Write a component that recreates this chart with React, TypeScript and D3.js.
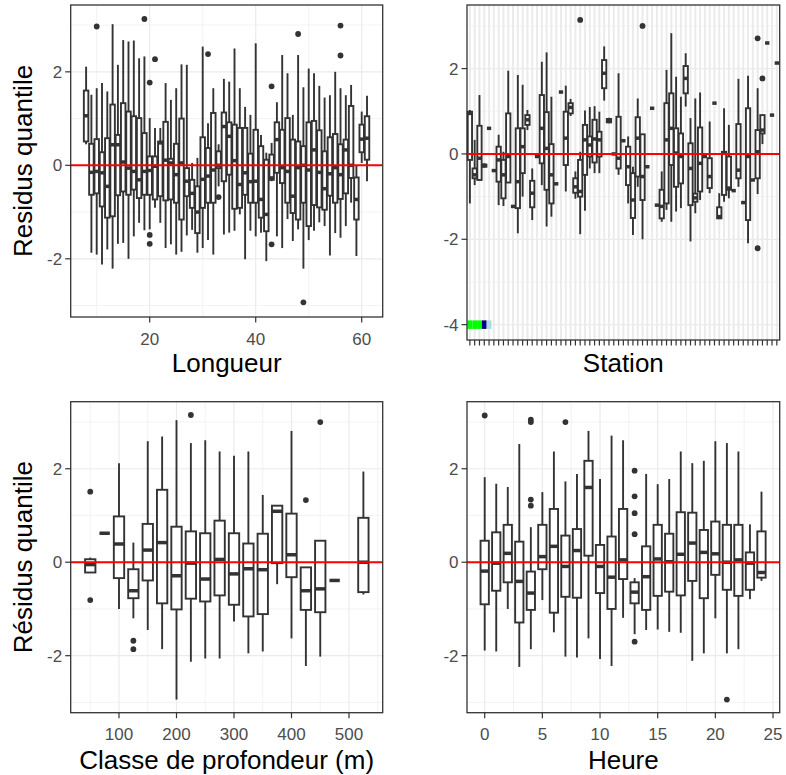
import React from 'react';
import * as d3 from 'd3';

// ---------------- DATA ----------------
// Panel 1 : Longueur (continuous x)
const longueurX = [8,9,10,11,12,13,14,15,16,17,18,19,20,21,22,23,24,25,26,27,28,29,30,31,32,33,34,35,36,37,38,39,40,41,42,43,44,45,46,47,48,49,50,51,52,53,54,55,56,57,58,59,60,61];
// [lower whisker, Q1, median, Q3, upper whisker]
const longueurStats = [
  [0.45, 0.51, 1.06, 1.6, 2.11], [-1.87, -0.63, -0.15, 0.46, 1.51], [-1.91, -0.6, -0.13, 0.56, 1.65],
  [-2.12, -0.88, -0.16, 0.28, 1.76], [-1.8, -1.12, -0.45, 0.58, 1.58], [-2.21, -1.09, 0.44, 1.3, 3.02],
  [-1.68, -0.64, 0.44, 0.65, 2.15], [-1.66, -0.56, 0.07, 1.33, 2.68], [-2.0, -0.63, -0.06, 1.15, 2.65],
  [-1.52, -0.52, -0.13, 1.05, 2.67], [-1.23, -0.7, -0.31, 1.01, 2.29], [-1.39, -0.63, -0.13, 0.69, 2.33],
  [-1.37, -0.63, -0.11, 0.19, 1.01], [-0.91, -0.73, -0.02, 0.19, 0.8], [-1.23, -0.66, 0.48, 0.51, 0.8],
  [-1.77, -0.75, 0.11, 0.93, 1.76], [-1.69, -0.73, 0.05, 0.14, 1.4], [-1.91, -0.8, -0.2, 0.46, 1.65],
  [-1.85, -1.16, 0.05, 1.0, 2.16], [-1.5, -0.66, -0.34, -0.06, 2.15], [-1.38, -0.91, -0.6, -0.31, 0.05],
  [-1.87, -1.45, -1.0, -0.45, 0.16], [-1.77, -0.91, -0.3, 0.6, 2.54], [-1.6, -0.8, -0.23, 0.37, 0.9],
  [-1.91, -0.8, -0.1, 1.12, 1.65], [-0.45, -0.06, 0.0, 0.3, 0.45], [-1.48, -0.34, 0.83, 1.13, 1.85],
  [-1.44, -0.2, 0.62, 0.92, 1.79], [-1.4, -0.93, 0.1, 0.87, 2.5], [-1.05, -0.91, -0.41, 0.8, 1.65],
  [-2.01, -0.63, -0.16, 0.8, 1.25], [-1.4, -0.8, -0.35, 0.25, 1.08], [-1.52, -0.8, -0.34, 0.76, 2.61],
  [-1.44, -1.12, -0.73, 0.41, 0.65], [-2.05, -1.41, -1.05, 0.12, 0.27], [-0.34, -0.31, -0.27, 0.23, 0.48],
  [-1.52, -0.16, 0.55, 0.92, 1.35], [-1.77, -0.38, -0.05, 0.76, 2.36], [-1.15, -0.8, -0.13, 1.01, 1.97],
  [-1.62, -1.02, -0.66, 0.55, 1.08], [-1.37, -1.16, -0.05, 0.51, 2.36], [-2.21, -0.8, 0.0, 0.41, 1.67],
  [-1.6, -1.3, -0.1, 0.92, 2.07], [-1.4, -0.85, 0.33, 0.95, 1.97], [-1.22, -0.9, -0.15, 0.75, 1.7],
  [-1.3, -0.95, -0.5, 0.3, 1.45], [-1.93, -0.65, -0.18, 0.6, 1.5], [-1.45, -0.8, -0.05, 0.67, 2.0],
  [-1.55, -0.72, -0.2, 0.45, 1.65], [-1.3, -0.6, 0.33, 0.55, 1.5], [-0.8, -0.27, 0.0, 1.27, 1.72],
  [-1.94, -1.16, -0.73, -0.26, 0.0], [0.05, 0.28, 0.56, 0.87, 1.15], [-0.34, 0.12, 0.58, 1.05, 1.49],
];
const longueurOutliers = [
  [10, 2.97], [19, 3.13], [20, 1.77], [20, -1.49], [20, -1.68], [21, 2.27], [31, 2.38], [33, -0.68],
  [43, 1.69], [43, -1.69], [48, 2.81], [49, -2.93], [56, 2.99], [56, 2.35],
];
const longueurTicks = [20, 40, 60];
const longueurMinor = [10, 30, 50];

// Panel 2 : Station (discrete x)
const stationNames = d3.range(1, 66).map((i) => `S${i}`);
const stationStats = [
  [-1.16, -0.14, 0.95, 0.99, 1.03], [-0.73, -0.57, -0.49, -0.34, 0.33], [-0.61, -0.61, -0.1, 0.66, 1.38],
  [-0.32, -0.3, -0.27, -0.25, -0.22], [0.6, 0.6, 0.6, 0.6, 0.6], [-0.39, -0.39, -0.39, -0.39, -0.39],
  [-1.2, -0.65, -0.14, 0.17, 0.45], [-1.22, -1.04, -0.49, -0.14, 0.05], [-0.67, -0.67, -0.06, 0.95, 1.95],
  [-1.23, -1.23, -1.23, -1.23, -1.23], [-1.86, -1.27, -0.65, 0.6, 1.85], [-1.0, -0.45, 0.17, 0.6, 1.62],
  [0.56, 0.68, 0.8, 0.91, 1.03], [-1.55, -1.25, -0.92, -0.63, -0.34], [-0.06, -0.06, -0.06, -0.06, -0.06],
  [-0.73, -0.22, 0.6, 1.38, 2.16], [-1.7, -0.84, 0.13, 0.98, 2.38], [-1.47, -1.16, -0.49, 0.23, 1.34],
  [-0.7, -0.7, -0.7, -0.7, -0.7], [1.45, 1.45, 1.45, 1.45, 1.45], [-0.88, -0.26, 0.37, 0.99, 1.6],
  [0.89, 0.95, 1.09, 1.19, 1.29], [-1.05, -0.91, -0.77, -0.57, -0.41], [-1.88, -1.0, -0.88, -0.14, 0.05],
  [-1.33, -0.49, 0.33, 0.68, 1.02], [-0.34, -0.06, 0.21, 0.41, 1.1], [-0.45, -0.2, 0.35, 0.8, 1.12],
  [-0.45, -0.06, 0.33, 0.52, 0.99], [1.25, 1.54, 1.89, 2.2, 2.52], [0.72, 0.74, 0.78, 0.82, 0.85],
  [0.0, 0.0, 0.0, 0.0, 0.0], [-0.49, -0.34, -0.1, 0.87, 1.89], [0.31, 0.31, 0.31, 0.31, 0.31],
  [-1.16, -0.73, -0.3, 0.17, 0.41], [-1.9, -1.5, -1.08, -0.45, -0.3], [-0.77, -0.53, 0.37, 0.86, 1.3],
  [-2.0, -1.08, -0.53, 0.46, 0.46], [-0.3, -0.3, -0.3, -0.3, -0.3], [1.07, 1.07, 1.07, 1.07, 1.07],
  [-1.2, -1.2, -1.2, -1.2, -1.2], [-1.59, -1.51, -1.23, -0.84, -0.41], [-1.31, -1.16, 0.33, 1.19, 1.97],
  [-1.59, -0.26, 0.6, 1.42, 2.83], [-1.35, -0.77, 0.02, 0.6, 1.81], [-1.27, -0.69, -0.06, 0.48, 1.34],
  [1.11, 1.42, 1.77, 2.06, 2.36], [-2.05, -1.2, -0.34, 0.25, 0.84], [-1.39, -1.12, -1.03, -0.93, 1.3],
  [-1.08, -0.88, -0.22, 0.62, 1.44], [-0.06, -0.06, -0.06, -0.06, -0.06], [-0.92, -0.8, -0.53, -0.1, 0.76],
  [1.19, 1.19, 1.19, 1.19, 1.19], [-1.51, -1.51, -1.47, -1.25, -0.92], [-1.12, -0.96, 0.02, 0.05, 1.07],
  [-1.04, -0.84, -0.8, -0.06, 0.68], [-0.86, -0.86, -0.86, -0.86, -0.86], [-0.77, -0.57, -0.38, 0.7, 1.76],
  [-1.14, -1.14, -1.14, -1.14, -1.14], [-2.09, -1.55, -0.06, 1.07, 1.83], [-0.61, -0.61, -0.61, -0.61, -0.61],
  [-0.94, -0.57, 0.05, 0.56, 1.54], [0.23, 0.48, 0.56, 0.91, 0.91], [2.6, 2.6, 2.6, 2.6, 2.6],
  [0.91, 0.91, 0.91, 0.91, 0.91], [2.13, 2.13, 2.13, 2.13, 2.13],
];
const stationOutliers = [
  [23, 3.14], [36, 3.0], [60, 2.71], [60, -2.21], [61, 1.77],
];
const stationStripCats = [0, 1, 2, 3, 4];
const stationStripColors = ['#00FF00', '#00FF00', '#00FF00', '#000080', '#ADD8E6'];
const stationStripValue = -4;
const stationTicks = [-4, -2, 0, 2];
const stationMinor = [-3, -1, 1, 3];

// Panel 3 : Classe de profondeur
const depthX = [50, 75, 100, 125, 150, 175, 200, 225, 250, 275, 300, 325, 350, 375, 400, 425, 450, 475, 525];
const depthStats = [
  [-0.22, -0.22, -0.05, 0.064, 0.1], [0.62, 0.62, 0.62, 0.62, 0.62], [-1.0, -0.34, 0.39, 0.98, 2.12],
  [-1.2, -0.77, -0.61, -0.15, 0.42], [-1.45, -0.39, 0.26, 0.82, 2.59], [-1.86, -0.88, 0.42, 1.55, 2.69],
  [-2.94, -1.01, -0.29, 0.76, 3.04], [-2.13, -0.78, -0.02, 0.66, 2.55], [-2.06, -0.84, -0.36, 0.62, 2.61],
  [-2.06, -0.71, 0.06, 0.89, 2.37], [-1.27, -0.91, -0.25, 0.62, 2.28], [-1.95, -1.16, -0.14, 0.4, 2.37],
  [-1.91, -1.11, -0.16, 0.61, 1.44], [-0.47, -0.02, 1.09, 1.21, 1.21], [-1.63, -0.32, 0.16, 1.04, 2.81],
  [-2.22, -1.02, -0.61, -0.11, -0.11], [-2.02, -1.07, -0.57, 0.46, 0.46], [-0.39, -0.39, -0.39, -0.39, -0.39],
  [-0.69, -0.64, 0.0, 0.95, 1.94],
];
const depthOutliers = [[50, 1.51], [50, -0.81], [125, -1.68], [125, -1.86], [225, 3.15], [425, 1.33], [450, 3.0]];
const depthTicks = [100, 200, 300, 400, 500];
const depthMinor = [50, 150, 250, 350, 450, 550];

// Panel 4 : Heure
const heureX = [0,1,2,3,4,5,6,7,8,9,10,11,12,13,14,15,16,17,18,19,20,21,22,23,24];
const heureStats = [
  [-1.89, -0.9, -0.19, 0.46, 1.82], [-1.91, -0.61, -0.02, 0.64, 1.68], [-1.0, -0.43, 0.19, 0.8, 1.61],
  [-2.24, -1.29, -0.41, 0.44, 2.53], [-1.86, -1.02, -0.66, -0.2, 0.75], [-0.81, -0.15, 0.12, 0.8, 1.5],
  [-1.5, -1.08, 0.34, 1.14, 2.37], [-2.02, -0.74, -0.09, 0.57, 1.73], [-2.04, -0.76, 0.25, 0.71, 1.89],
  [-1.63, 0.14, 1.6, 2.17, 2.81], [-2.07, -0.66, -0.09, 0.37, 1.78], [-2.22, -1.0, -0.32, 0.55, 2.71],
  [-1.19, -0.36, 0.05, 1.14, 2.61], [-1.54, -0.88, -0.64, -0.43, -0.34], [-1.45, -1.02, -0.31, 0.34, 1.89],
  [-1.44, -0.72, 0.07, 0.8, 1.67], [-1.49, -0.63, 0.01, 0.61, 1.78], [-1.51, -0.71, 0.17, 1.07, 2.37],
  [-2.11, -0.4, 0.41, 1.06, 2.12], [-1.95, -0.77, 0.21, 0.69, 2.17], [-1.2, -0.27, 0.18, 0.87, 2.59],
  [-1.95, -0.59, 0.0, 0.8, 2.55], [-1.86, -0.72, 0.05, 0.8, 2.37], [-0.79, -0.59, -0.02, 0.21, 0.81],
  [-0.4, -0.33, -0.22, 0.66, 1.51],
];
const heureOutliers = [
  [0, 3.14], [4, 3.05], [4, 3.0], [4, 1.34], [4, 1.21], [7, 3.0], [13, 1.96], [13, 1.41], [13, 1.05],
  [13, 0.6], [13, -1.7], [21, -2.94],
];
const heureTicks = [0, 5, 10, 15, 20, 25];
const heureMinor = [2.5, 7.5, 12.5, 17.5, 22.5];

const residTicks = [-2, 0, 2];
const residMinor = [-3, -1, 1, 3];

// ---------------- STYLE ----------------
const FONT = "'Liberation Sans', Arial, Helvetica, sans-serif";
const INK = '#333333';
const GRID = '#EBEBEB';
const TICK_TXT = '#4D4D4D';
const LW = 1.9;
const MED_LW = 3.5;

const P1 = { l: 70.7, r: 382.7, t: 5, b: 317 };
const P2 = { l: 467, r: 779.7, t: 5, b: 340 };
const P3 = { l: 70.7, r: 382.7, t: 401.7, b: 712.7 };
const P4 = { l: 467, r: 779.7, t: 401.7, b: 712.7 };

type Box = { cx: number; s: number[] };

function Boxes({ boxes, y, w }: { boxes: Box[]; y: (v: number) => number; w: number }) {
  return (
    <g>
      {boxes.map((b, i) => {
        const [lw, q1, med, q3, uw] = b.s;
        return (
          <g key={i}>
            <line x1={b.cx} x2={b.cx} y1={y(q3)} y2={y(uw)} stroke={INK} strokeWidth={LW} />
            <line x1={b.cx} x2={b.cx} y1={y(q1)} y2={y(lw)} stroke={INK} strokeWidth={LW} />
            <rect x={b.cx - w / 2} width={w} y={y(q3)} height={Math.max(0, y(q1) - y(q3))}
              fill="white" stroke={INK} strokeWidth={LW} />
            <line x1={b.cx - w / 2} x2={b.cx + w / 2} y1={y(med)} y2={y(med)} stroke={INK} strokeWidth={MED_LW} />
          </g>
        );
      })}
    </g>
  );
}

function Outliers({ pts, y }: { pts: { cx: number; v: number }[]; y: (v: number) => number }) {
  return (
    <g>
      {pts.map((p, i) => (
        <circle key={i} cx={p.cx} cy={y(p.v)} r={2.9} fill={INK} />
      ))}
    </g>
  );
}

function HGrid({ P, y, major, minor }: any) {
  return (
    <g>
      {minor.map((v: number) => (
        <line key={'m' + v} x1={P.l} x2={P.r} y1={y(v)} y2={y(v)} stroke={GRID} strokeWidth={0.6} />
      ))}
      {major.map((v: number) => (
        <line key={'M' + v} x1={P.l} x2={P.r} y1={y(v)} y2={y(v)} stroke={GRID} strokeWidth={1.2} />
      ))}
    </g>
  );
}

function VGrid({ P, xs, width }: any) {
  return (
    <g>
      {xs.map((x: number, i: number) => (
        <line key={i} x1={x} x2={x} y1={P.t} y2={P.b} stroke={GRID} strokeWidth={width} />
      ))}
    </g>
  );
}

function YAxis({ P, y, ticks }: any) {
  return (
    <g>
      {ticks.map((v: number) => (
        <g key={v}>
          <line x1={P.l - 5.5} x2={P.l} y1={y(v)} y2={y(v)} stroke={INK} strokeWidth={1.2} />
          <text x={P.l - 8.5} y={y(v)} dy="0.36em" textAnchor="end" fontSize={17} fill={TICK_TXT} fontFamily={FONT}>
            {v < 0 ? '-' + Math.abs(v) : String(v)}
          </text>
        </g>
      ))}
    </g>
  );
}

function XAxis({ P, x, ticks, labels }: any) {
  return (
    <g>
      {ticks.map((v: any, i: number) => (
        <g key={i}>
          <line x1={x(v)} x2={x(v)} y1={P.b} y2={P.b + 5.5} stroke={INK} strokeWidth={1.2} />
          {labels && (
            <text x={x(v)} y={P.b + 27.5} textAnchor="middle" fontSize={17} fill={TICK_TXT} fontFamily={FONT}>
              {String(v)}
            </text>
          )}
        </g>
      ))}
    </g>
  );
}

function Frame({ P }: any) {
  return <rect x={P.l} y={P.t} width={P.r - P.l} height={P.b - P.t} fill="none" stroke={INK} strokeWidth={1.3} />;
}

function ZeroLine({ P, y }: any) {
  return <line x1={P.l} x2={P.r} y1={y(0)} y2={y(0)} stroke="#FF0000" strokeWidth={2} />;
}

export default function App() {
  // scales
  const x1 = d3.scaleLinear().domain([5.094, 63.96]).range([P1.l, P1.r]);
  const y1 = d3.scaleLinear().domain([-3.245, 3.43]).range([P1.b, P1.t]);
  const x2 = d3.scalePoint<string>().domain(stationNames).range([P2.l, P2.r]).padding(0.6);
  const y2 = d3.scaleLinear().domain([-4.36, 3.49]).range([P2.b, P2.t]);
  const x3 = d3.scaleLinear().domain([16.0, 558.6]).range([P3.l, P3.r]);
  const y3 = d3.scaleLinear().domain([-3.22, 3.435]).range([P3.b, P3.t]);
  const x4 = d3.scaleLinear().domain([-1.535, 25.58]).range([P4.l, P4.r]);
  const y4 = d3.scaleLinear().domain([-3.22, 3.435]).range([P4.b, P4.t]);

  const step2 = x2.step();

  const boxes1 = longueurX.map((v, i) => ({ cx: x1(v), s: longueurStats[i] }));
  const boxes2 = stationNames.map((n, i) => ({ cx: x2(n) as number, s: stationStats[i] }));
  const boxes3 = depthX.map((v, i) => ({ cx: x3(v), s: depthStats[i] }));
  const boxes4 = heureX.map((v, i) => ({ cx: x4(v), s: heureStats[i] }));

  const out1 = longueurOutliers.map(([v, r]) => ({ cx: x1(v), v: r }));
  const out2 = stationOutliers.map(([c, r]) => ({ cx: x2(stationNames[c]) as number, v: r }));
  const out3 = depthOutliers.map(([v, r]) => ({ cx: x3(v), v: r }));
  const out4 = heureOutliers.map(([v, r]) => ({ cx: x4(v), v: r }));

  const titleStyle = { fontFamily: FONT, fontSize: 26, fill: '#000' } as any;

  return (
    <svg width={786} height={775} style={{ position: 'absolute', left: 0, top: 0, background: 'white' }}>
      <rect x={0} y={0} width={786} height={775} fill="white" />

      {/* ---------- Panel 1 ---------- */}
      <rect x={P1.l} y={P1.t} width={P1.r - P1.l} height={P1.b - P1.t} fill="white" />
      <HGrid P={P1} y={y1} major={residTicks} minor={residMinor} />
      <VGrid P={P1} xs={longueurMinor.map((v) => x1(v))} width={0.6} />
      <VGrid P={P1} xs={longueurTicks.map((v) => x1(v))} width={1.2} />
      <Boxes boxes={boxes1} y={y1} w={x1(0.85) - x1(0)} />
      <Outliers pts={out1} y={y1} />
      <ZeroLine P={P1} y={y1} />
      <Frame P={P1} />
      <YAxis P={P1} y={y1} ticks={residTicks} />
      <XAxis P={P1} x={x1} ticks={longueurTicks} labels />
      <text x={(P1.l + P1.r) / 2} y={372} textAnchor="middle" style={titleStyle}>Longueur</text>
      <text transform={`translate(31.5,${(P1.t + P1.b) / 2}) rotate(-90)`} textAnchor="middle" style={titleStyle}>
        Residus quantile
      </text>

      {/* ---------- Panel 2 ---------- */}
      <rect x={P2.l} y={P2.t} width={P2.r - P2.l} height={P2.b - P2.t} fill="white" />
      <HGrid P={P2} y={y2} major={stationTicks} minor={stationMinor} />
      <VGrid P={P2} xs={stationNames.map((n) => x2(n) as number)} width={2} />
      {stationStripCats.map((c, i) => (
        <rect key={i} x={(x2(stationNames[c]) as number) - step2 / 2} width={step2}
          y={y2(stationStripValue + 0.1)} height={y2(stationStripValue - 0.1) - y2(stationStripValue + 0.1)}
          fill={stationStripColors[i]} />
      ))}
      <Boxes boxes={boxes2} y={y2} w={step2 * 0.9} />
      <Outliers pts={out2} y={y2} />
      <ZeroLine P={P2} y={y2} />
      <Frame P={P2} />
      <YAxis P={P2} y={y2} ticks={stationTicks} />
      <XAxis P={P2} x={(n: string) => x2(n) as number} ticks={stationNames} labels={false} />
      <text x={(P2.l + P2.r) / 2} y={372} textAnchor="middle" style={titleStyle}>Station</text>

      {/* ---------- Panel 3 ---------- */}
      <rect x={P3.l} y={P3.t} width={P3.r - P3.l} height={P3.b - P3.t} fill="white" />
      <HGrid P={P3} y={y3} major={residTicks} minor={residMinor} />
      <VGrid P={P3} xs={depthMinor.map((v) => x3(v))} width={0.6} />
      <VGrid P={P3} xs={depthTicks.map((v) => x3(v))} width={1.2} />
      <Boxes boxes={boxes3} y={y3} w={x3(18) - x3(0)} />
      <Outliers pts={out3} y={y3} />
      <ZeroLine P={P3} y={y3} />
      <Frame P={P3} />
      <YAxis P={P3} y={y3} ticks={residTicks} />
      <XAxis P={P3} x={x3} ticks={depthTicks} labels />
      <text x={(P3.l + P3.r) / 2} y={768.5} textAnchor="middle" style={titleStyle}>Classe de profondeur (m)</text>
      <text transform={`translate(31.5,${(P3.t + P3.b) / 2}) rotate(-90)`} textAnchor="middle" style={titleStyle}>
        Résidus quantile
      </text>

      {/* ---------- Panel 4 ---------- */}
      <rect x={P4.l} y={P4.t} width={P4.r - P4.l} height={P4.b - P4.t} fill="white" />
      <HGrid P={P4} y={y4} major={residTicks} minor={residMinor} />
      <VGrid P={P4} xs={heureMinor.map((v) => x4(v))} width={0.6} />
      <VGrid P={P4} xs={heureTicks.map((v) => x4(v))} width={1.2} />
      <Boxes boxes={boxes4} y={y4} w={x4(0.72) - x4(0)} />
      <Outliers pts={out4} y={y4} />
      <ZeroLine P={P4} y={y4} />
      <Frame P={P4} />
      <YAxis P={P4} y={y4} ticks={residTicks} />
      <XAxis P={P4} x={x4} ticks={heureTicks} labels />
      <text x={(P4.l + P4.r) / 2} y={768.5} textAnchor="middle" style={titleStyle}>Heure</text>
    </svg>
  );
}
